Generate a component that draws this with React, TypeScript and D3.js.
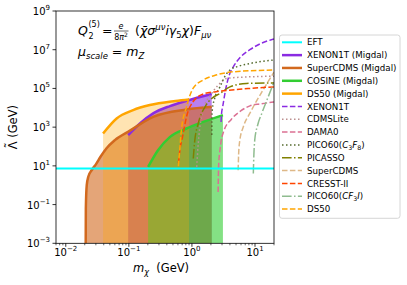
import React from 'react';
import * as d3 from 'd3';

// EFT validity line
const eftLambda = 7.3;

// Migdal bounds (filled)
const xenonMigdalMass = [0.0975, 0.15, 0.243, 0.448, 0.82, 2.06];
const xenonMigdalLambda = [389, 1550, 5130, 12300, 22900, 51300];

const superCdmsMigdalMass = [0.0207, 0.0208, 0.0215, 0.0228, 0.026, 0.03, 0.036, 0.044, 0.06, 0.104, 0.243, 0.824, 2.06];
const superCdmsMigdalLambda = [0.001, 0.063, 1, 2.82, 6.3, 12, 31.6, 79.4, 214, 661, 3390, 8130, 11200];

const cosineMigdalMass = [0.202, 0.29, 0.45, 0.82, 1.51, 3.1];
const cosineMigdalLambda = [8.9, 64.6, 316, 851, 1860, 4170];

const ds50MigdalMass = [0.039, 0.064, 0.117, 0.215, 0.55, 0.9];
const ds50MigdalLambda = [468, 2820, 7590, 13800, 22400, 26900];

// standard nuclear recoil bounds (lines)
const xenonMass = [2.9, 2.95, 3.07, 3.5, 4.0, 4.5, 5.8, 8.3, 12, 20];
const xenonLambda = [1860, 5010, 11200, 126000, 603000, 1260000, 3980000, 10000000, 20000000, 35500000];

const cdmsLiteMass = [1.19, 1.26, 1.51, 2.06, 2.78, 3.56, 8.3, 20];
const cdmsLiteLambda = [8.9, 145, 7590, 55000, 182000, 331000, 398000, 430000];

const damaMass = [2.6, 2.65, 2.8, 3.2, 4.2, 6, 8.3, 12, 20];
const damaLambda = [0.45, 10, 79, 631, 2510, 7080, 12600, 15800, 20000];

const picoC3F8Mass = [2.06, 2.07, 2.1, 2.3, 2.78, 3.3, 4.0, 5.5, 8.3, 20];
const picoC3F8Lambda = [398, 2000, 7590, 31600, 120000, 398000, 891000, 1410000, 1950000, 2950000];

const picassoMass = [1.05, 1.1, 1.26, 1.61, 2.06, 2.78, 4.0, 7.3, 20];
const picassoLambda = [24, 158, 1550, 11200, 30200, 55000, 120000, 182000, 191000];

const superCdmsMass = [5.4, 5.5, 5.75, 6.5, 8.3, 12.8, 20];
const superCdmsLambda = [5.9, 40, 214, 1000, 5250, 64600, 692000];

const cresstMass = [0.61, 0.65, 0.72, 0.82, 1.04, 1.6, 2.4, 8.3, 20];
const cresstLambda = [13.8, 79, 398, 3390, 20400, 55000, 67600, 100000, 120000];

const picoCF3IMass = [9.4, 9.6, 9.9, 11, 12.8, 16.2, 20];
const picoCF3ILambda = [4, 40, 214, 1260, 5130, 37200, 219000];

const ds50Mass = [0.61, 0.64, 0.68, 0.82, 1.04, 1.5, 2.4, 4.5, 20];
const ds50Lambda = [9.5, 64.6, 692, 11200, 100000, 269000, 490000, 724000, 891000];

const xTickExps = [-2, -1, 0, 1];
const yTickExps = [-3, -1, 1, 3, 5, 7, 9];

type Series = {
  label: React.ReactNode;
  mass: number[];
  lambda: number[];
  color: string;
  dash?: string;
  fill?: number;
  width: number;
};

const sub = (t: string) => (
  <tspan fontSize="6.3" dy="2">{t}</tspan>
);

const migdal: Series[] = [
  { label: 'XENON1T (Migdal)', mass: xenonMigdalMass, lambda: xenonMigdalLambda, color: '#8a2be2', fill: 0.6, width: 2.5 },
  { label: 'SuperCDMS (Migdal)', mass: superCdmsMigdalMass, lambda: superCdmsMigdalLambda, color: '#d2691e', fill: 0.6, width: 2.5 },
  { label: 'COSINE (Migdal)', mass: cosineMigdalMass, lambda: cosineMigdalLambda, color: '#32cd32', fill: 0.6, width: 2.5 },
  { label: 'DS50 (Migdal)', mass: ds50MigdalMass, lambda: ds50MigdalLambda, color: '#ffa500', fill: 0.3, width: 2.5 },
];

const limits: Series[] = [
  { label: 'XENON1T', mass: xenonMass, lambda: xenonLambda, color: '#8a2be2', dash: '5.5,2.4', width: 1.5 },
  { label: 'CDMSLite', mass: cdmsLiteMass, lambda: cdmsLiteLambda, color: '#bc8f8f', dash: '1.5,2.5', width: 1.5 },
  { label: 'DAMA0', mass: damaMass, lambda: damaLambda, color: '#db7093', dash: '5.5,2.4', width: 1.5 },
  {
    label: (<>PICO60(<tspan fontStyle="italic">C</tspan>{sub('3')}<tspan dy="-2" fontStyle="italic">F</tspan>{sub('8')}<tspan dy="-2">)</tspan></>),
    mass: picoC3F8Mass, lambda: picoC3F8Lambda, color: '#556b2f', dash: '1.5,2.5', width: 1.5,
  },
  { label: 'PICASSO', mass: picassoMass, lambda: picassoLambda, color: '#808000', dash: '9.6,2.4,1.5,2.4', width: 1.5 },
  { label: 'SuperCDMS', mass: superCdmsMass, lambda: superCdmsLambda, color: '#deb887', dash: '5.5,2.4', width: 1.5 },
  { label: 'CRESST-II', mass: cresstMass, lambda: cresstLambda, color: '#ff4500', dash: '5.5,2.4', width: 1.5 },
  {
    label: (<>PICO60(<tspan fontStyle="italic">CF</tspan>{sub('3')}<tspan dy="-2" fontStyle="italic">I</tspan><tspan>)</tspan></>),
    mass: picoCF3IMass, lambda: picoCF3ILambda, color: '#8fbc8f', dash: '9.6,2.4,1.5,2.4', width: 1.5,
  },
  { label: 'DS50', mass: ds50Mass, lambda: ds50Lambda, color: '#ffa500', dash: '5.5,2.4', width: 1.5 },
];

export default function App() {
  const width = 407;
  const height = 285;
  const left = 56, right = 274, top = 11, bottom = 243.3;

  const x = d3.scaleLog().domain([0.007, 20]).range([left, right]);
  const y = d3.scaleLog().domain([1e-3, 1e9]).range([bottom, top]);

  const line = d3.line<[number, number]>()
    .x(d => x(d[0]))
    .y(d => y(d[1]))
    .curve(d3.curveMonotoneX);
  const area = d3.area<[number, number]>()
    .x(d => x(d[0]))
    .y0(y(1e-3))
    .y1(d => y(d[1]))
    .curve(d3.curveMonotoneX);

  const pts = (s: Series) => s.mass.map((m, i) => [m, s.lambda[i]] as [number, number]);

  // minor ticks on x
  const minor: number[] = [];
  for (let e = -3; e <= 1; e++) {
    for (let k = 2; k <= 9; k++) {
      const v = k * Math.pow(10, e);
      if (v >= 0.007 && v <= 20) minor.push(v);
    }
  }

  const font = '"DejaVu Sans", sans-serif';
  const expStr = (e: number) => (e < 0 ? '\u2212' + Math.abs(e) : String(e));

  const legendRows = [
    { label: 'EFT', color: '#00ffff', width: 2 } as any,
    ...migdal,
    ...limits,
  ];

  return (
    <svg width={width} height={height} style={{ position: 'absolute', left: 0, top: 0, fontFamily: font }}>
      <defs>
        <clipPath id="plot">
          <rect x={left} y={top} width={right - left} height={bottom - top} />
        </clipPath>
      </defs>
      <rect x={0} y={0} width={width} height={height} fill="#fff" />

      <g clipPath="url(#plot)">
        {migdal.map((s, i) => (
          <path key={'f' + i} d={area(pts(s)) || ''} fill={s.color} fillOpacity={s.fill} stroke="none" />
        ))}
        {migdal.map((s, i) => (
          <path key={'l' + i} d={line(pts(s)) || ''} fill="none" stroke={s.color} strokeWidth={s.width} />
        ))}
        {limits.map((s, i) => (
          <path key={'d' + i} d={line(pts(s)) || ''} fill="none" stroke={s.color} strokeWidth={s.width} strokeDasharray={s.dash} />
        ))}
        <line x1={left} x2={right} y1={y(eftLambda)} y2={y(eftLambda)} stroke="#00ffff" strokeWidth={2} />
      </g>

      {/* axes frame */}
      <rect x={left} y={top} width={right - left} height={bottom - top} fill="none" stroke="#000" strokeWidth={0.8} />

      {xTickExps.map(e => {
        const px = x(Math.pow(10, e));
        return (
          <g key={'xt' + e}>
            <line x1={px} x2={px} y1={bottom} y2={bottom + 3.5} stroke="#000" strokeWidth={0.8} />
            <text x={px} y={255.5} fontSize={10} textAnchor="middle">
              10<tspan fontSize={7} dy={-5}>{expStr(e)}</tspan>
            </text>
          </g>
        );
      })}
      {minor.map((v, i) => (
        <line key={'mx' + i} x1={x(v)} x2={x(v)} y1={bottom} y2={bottom + 2} stroke="#000" strokeWidth={0.6} />
      ))}
      {yTickExps.map(e => {
        const py = y(Math.pow(10, e));
        return (
          <g key={'yt' + e}>
            <line x1={left - 3.5} x2={left} y1={py} y2={py} stroke="#000" strokeWidth={0.8} />
            <text x={left - 6} y={py + 4} fontSize={10} textAnchor="end">
              10<tspan fontSize={7} dy={-5}>{expStr(e)}</tspan>
            </text>
          </g>
        );
      })}

      {/* axis labels */}
      <text x={133} y={272} fontSize={11.5}>
        <tspan fontStyle="italic">m</tspan>
        <tspan fontSize={8} dy={2.5} fontStyle="italic">χ</tspan>
        <tspan dy={-2.5}>{'\u00a0\u00a0(GeV)'}</tspan>
      </text>
      <g transform={`translate(17,${(top + bottom) / 2}) rotate(-90)`}>
        <text x={0} y={0} fontSize={11.5} textAnchor="middle">{'\u039b (GeV)'}</text>
        <text x={-18.3} y={-3} fontSize={11.5} textAnchor="middle">{'\u02dc'}</text>
      </g>

      {/* operator annotation */}
      <text x={78} y={35} fontSize={12.5} fontStyle="italic">Q</text>
      <text x={88.5} y={27} fontSize={8}>(5)</text>
      <text x={88.5} y={39} fontSize={8}>2</text>
      <text x={102} y={35} fontSize={12.5}>=</text>
      <text x={121} y={28.5} fontSize={8} fontStyle="italic" textAnchor="middle">e</text>
      <line x1={114} x2={128.5} y1={31} y2={31} stroke="#000" strokeWidth={0.6} />
      <text x={121} y={40} fontSize={8} textAnchor="middle">
        8<tspan fontStyle="italic">π</tspan><tspan fontSize={6} dy={-3}>2</tspan>
      </text>
      <text x={135} y={35} fontSize={12.5}>
        (<tspan fontStyle="italic">{'\u03c7\u0304\u03c3'}</tspan>
        <tspan fontSize={8.5} dy={-5} fontStyle="italic">μν</tspan>
        <tspan dy={5} fontStyle="italic">iγ</tspan>
        <tspan fontSize={8.5} dy={3}>5</tspan>
        <tspan dy={-3} fontStyle="italic">χ</tspan>)
        <tspan fontStyle="italic">F</tspan>
        <tspan fontSize={8.5} dy={3} fontStyle="italic">μν</tspan>
      </text>
      <text x={78} y={56} fontSize={12.5} fontStyle="italic">
        μ<tspan fontSize={8.5} dy={3}>scale</tspan>
        <tspan dy={-3} fontStyle="normal">{'\u00a0=\u00a0'}</tspan>
        m<tspan fontSize={8.5} dy={3}>Z</tspan>
      </text>

      {/* legend */}
      <rect x={279.5} y={35} width={120.5} height={183.3} rx={2.5} fill="#fff" fillOpacity={0.8} stroke="#cccccc" strokeWidth={0.8} />
      {legendRows.map((s: any, i: number) => {
        const ry = 42.3 + i * 12.83;
        return (
          <g key={'lg' + i}>
            <line x1={282} x2={302} y1={ry} y2={ry} stroke={s.color} strokeWidth={s.width} strokeDasharray={s.dash} />
            <text x={307} y={ry + 3.1} fontSize={8.7}>{s.label}</text>
          </g>
        );
      })}
    </svg>
  );
}
